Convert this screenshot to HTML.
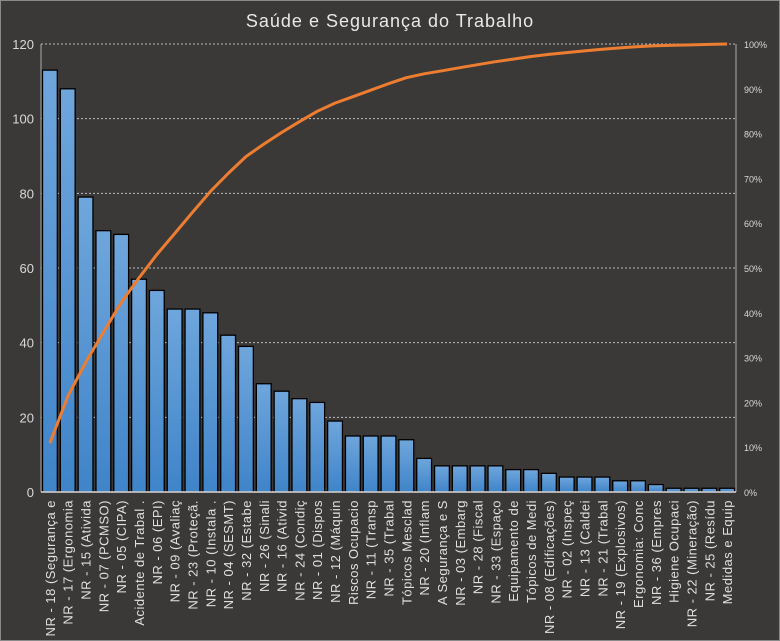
<!DOCTYPE html>
<html><head><meta charset="utf-8"><style>
html,body{margin:0;padding:0;background:#3a3937;}
svg{display:block;font-family:"Liberation Sans","DejaVu Sans",sans-serif;}
</style></head><body>
<svg id="s" width="780" height="641" xmlns="http://www.w3.org/2000/svg">
<defs><linearGradient id="g" x1="0" x2="0" y1="0" y2="1"><stop offset="0" stop-color="#6fa6dc"/><stop offset="1" stop-color="#3f84c9"/></linearGradient></defs>
<rect x="0.5" y="0.5" width="779" height="640" fill="#3a3937" stroke="#8a8a8a"/>
<text x="390" y="27" text-anchor="middle" font-size="18" fill="#e8e8e8" letter-spacing="1">Saúde e Segurança do Trabalho</text>
</svg>
<script>
var s=document.getElementById('s'),ns='http://www.w3.org/2000/svg';
function el(t,a,txt){var e=document.createElementNS(ns,t);for(var k in a)e.setAttribute(k,a[k]);if(txt!=null)e.textContent=txt;s.appendChild(e);return e;}
var L=41,R=736,T=44,B=492,H=B-T;
for(var v=0;v<=120;v+=20){var y=B-v/120*H;
 if(v>0)el('line',{x1:L,x2:R,y1:y,y2:y,stroke:'#bdbdbd','stroke-dasharray':'2,2','stroke-width':1});
 el('text',{x:34,y:y+5,'text-anchor':'end','font-size':13,fill:'#d9d9d9'},v);}
for(var p=0;p<=100;p+=10){var y=B-p/100*H;el('text',{x:744,y:y+4,'font-size':9,fill:'#d9d9d9'},p+'%');}
el('line',{x1:L,x2:L,y1:T,y2:B,stroke:'#aaa'});el('line',{x1:R,x2:R,y1:T,y2:B,stroke:'#aaa'});
var labs=["NR - 18 (Segurança e","NR - 17 (Ergonomia","NR - 15 (Ativida","NR - 07 (PCMSO)","NR - 05 (CIPA)","Acidente de Trabal .","NR - 06 (EPI)","NR - 09 (Avaliaç","NR - 23 (Proteçã.","NR - 10 (Instala .","NR - 04 (SESMT)","NR - 32 (Estabe","NR - 26 (Sinali","NR - 16 (Ativid","NR - 24 (Condiç","NR - 01 (Dispos","NR - 12 (Máquin","Riscos Ocupacio","NR - 11 (Transp","NR - 35 (Trabal","Tópicos Mesclad","NR - 20 (Inflam","A Segurança e S","NR - 03 (Embarg","NR - 28 (Fiscal","NR - 33 (Espaço","Equipamento de","Tópicos de Medi","NR - 08 (Edificações)","NR - 02 (Inspeç","NR - 13 (Caldei","NR - 21 (Trabal","NR - 19 (Explosivos)","Ergonomia: Conc","NR - 36 (Empres","Higiene Ocupaci","NR - 22 (Mineração)","NR - 25 (Resídu","Medidas e Equip"];
var vals=[113,108,79,70,69,57,54,49,49,48,42,39,29,27,25,24,19,15,15,15,14,9,7,7,7,7,6,6,5,4,4,4,3,3,2,1,1,1,1];
var n=vals.length,w=(R-L)/n,tot=0;vals.forEach(function(v){tot+=v});
var cum=0,pts=[];
for(var i=0;i<n;i++){var x=L+i*w,h=vals[i]/120*H;
 el('rect',{x:x+1.5,y:B-h,width:w-3,height:h,fill:'url(#g)',stroke:'#000','stroke-width':1.3});
 cum+=vals[i];pts.push((x+w/2).toFixed(1)+','+(B-cum/tot*H).toFixed(1));
 var cx=x+w/2+5;el('text',{x:cx,y:500,'text-anchor':'end','font-size':13,'letter-spacing':0.5,fill:'#e0e0e0',transform:'rotate(-90 '+cx+' 500)'},labs[i]);}
el('line',{x1:L,x2:R,y1:B,y2:B,stroke:'#ddd','stroke-width':1.5});
el('polyline',{points:pts.join(' '),fill:'none',stroke:'#ed7d31','stroke-width':3,'stroke-linejoin':'round'});
</script>
</body></html>
